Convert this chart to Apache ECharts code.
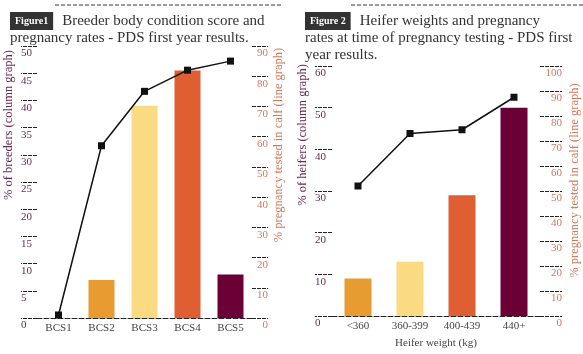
<!DOCTYPE html>
<html lang="en">
<head>
    <meta charset="UTF-8"/>
    <title>PDS first year results</title>
    <!-- ECharts from CDN -->
    <script src="https://cdn.jsdelivr.net/npm/echarts@6/dist/echarts.min.js"></script>
    <style>
        html, body { margin: 0; padding: 0; background: #fff; }
    </style>
</head>
<body>
<div id="main" style="width: 583px;height:354px;"></div>
<script type="text/javascript">
    // figure 1 data
    var bcsCategories = ['BCS1', 'BCS2', 'BCS3', 'BCS4', 'BCS5'];
    var bcsBreeders = [0, 7, 39, 45.5, 8];            // % of breeders (columns)
    var bcsPregnancy = [1, 57, 75, 82, 85];           // % pregnancy tested in calf (line)

    // figure 2 data
    var weightCategories = ['<360', '360-399', '400-439', '440+'];
    var weightHeifers = [9, 13, 29, 50];              // % of heifers (columns)
    var weightPregnancy = [52, 73, 74.5, 87.5];       // % pregnancy tested in calf (line)

    var barColors1 = ['#e89b30', '#e89b30', '#fadb82', '#df5f33', '#6a0036'];
    var barColors2 = ['#e89b30', '#fadb82', '#df5f33', '#6a0036'];

    var serif = '"Liberation Serif", "DejaVu Serif", serif';
    var leftColor = '#6a2a4e';
    var rightColor = '#d27a5c';

    function colored(values, colors) {
        var out = [];
        for (var i = 0; i < values.length; i++) {
            out.push({ value: values[i], itemStyle: { color: colors[i] } });
        }
        return out;
    }

    function xAxisFor(grid, cats, name) {
        return {
            type: 'category',
            gridIndex: grid,
            data: cats,
            name: name,
            nameLocation: 'middle',
            nameGap: 22,
            nameTextStyle: { color: '#444', fontSize: 11, fontFamily: serif },
            axisLine: { lineStyle: { color: '#222', width: 1, type: [5, 2] } },
            axisTick: { inside: true, length: 13, lineStyle: { color: '#111', width: 1.5 } },
            axisLabel: { color: '#444', fontSize: 11, fontFamily: serif, margin: 5 }
        };
    }

    // shift = padding that moves the rotated name up the axis by shift/2
    function yAxisFor(grid, pos, max, step, name, color, gap, shift, tickLen) {
        return {
            type: 'value',
            gridIndex: grid,
            position: pos,
            min: 0,
            max: max,
            interval: step,
            name: name,
            nameLocation: 'middle',
            nameGap: gap,
            nameTextStyle: { color: color, fontSize: 12.5, fontFamily: serif, padding: [0, 0, 0, shift] },
            axisLine: { show: false },
            splitLine: { show: false },
            axisTick: { show: true, length: tickLen, lineStyle: { color: '#222', width: 1, type: [4, 1] } },
            axisLabel: {
                color: color, fontSize: 11, fontFamily: serif,
                margin: tickLen, align: pos === 'left' ? 'left' : 'right',
                verticalAlign: 'top', padding: [2, 0, 0, 0]
            }
        };
    }

    var titleRich = {
        b: { backgroundColor: '#333', color: '#fff', fontWeight: 'bold', fontSize: 10, fontFamily: serif, padding: [3, 5, 3, 5], height: 12 },
        s: { width: 9 },
        t: { fontSize: 15, color: '#333', fontFamily: serif, fontWeight: 'normal', lineHeight: 17 }
    };

    var myChart = echarts.init(document.getElementById('main'));
    var option = {
        animation: false,
        title: [
            {
                left: 5, top: 7,
                text: '{b|Figure1}{s|}{t|Breeder body condition score and}\n{t|pregnancy rates - PDS first year results.}',
                textStyle: { fontWeight: 'normal', rich: titleRich }
            },
            {
                left: 300, top: 7,
                text: '{b|Figure 2}{s|}{t|Heifer weights and pregnancy}\n{t|rates at time of pregnancy testing - PDS first}\n{t|year results.}',
                textStyle: { fontWeight: 'normal', rich: titleRich }
            }
        ],
        graphic: [
            { type: 'line', shape: { x1: 55, y1: 5, x2: 283, y2: 5 }, style: { stroke: '#333', lineWidth: 1, lineDash: [4, 2] } },
            { type: 'line', shape: { x1: 351, y1: 5, x2: 583, y2: 5 }, style: { stroke: '#333', lineWidth: 1, lineDash: [4, 2] } }
        ],
        grid: [
            { left: 37, right: 331, top: 46, bottom: 36 },
            { left: 332, right: 43, top: 66, bottom: 36 }
        ],
        xAxis: [
            xAxisFor(0, bcsCategories, ''),
            xAxisFor(1, weightCategories, 'Heifer weight (kg)')
        ],
        yAxis: [
            yAxisFor(0, 'left', 50, 5, '% of breeders (column graph)', leftColor, 22, 114, 16),
            yAxisFor(0, 'right', 90, 10, '% pregnancy tested in calf (line graph)', rightColor, 20, 74, 16),
            yAxisFor(1, 'left', 60, 10, '% of heifers (column graph)', leftColor, 23, 112, 17),
            yAxisFor(1, 'right', 100, 10, '% pregnancy tested in calf (line graph)', rightColor, 28, 21, 22)
        ],
        series: [
            {
                name: '% of breeders', type: 'bar', xAxisIndex: 0, yAxisIndex: 0,
                barWidth: 26, data: colored(bcsBreeders, barColors1)
            },
            {
                name: '% pregnancy tested', type: 'line', xAxisIndex: 0, yAxisIndex: 1,
                symbol: 'rect', symbolSize: 7, showAllSymbol: true,
                lineStyle: { color: '#111', width: 1.5 }, itemStyle: { color: '#111' },
                data: bcsPregnancy
            },
            {
                name: '% of heifers', type: 'bar', xAxisIndex: 1, yAxisIndex: 2,
                barWidth: 27, data: colored(weightHeifers, barColors2)
            },
            {
                name: '% pregnancy tested', type: 'line', xAxisIndex: 1, yAxisIndex: 3,
                symbol: 'rect', symbolSize: 7, showAllSymbol: true,
                lineStyle: { color: '#111', width: 1.5 }, itemStyle: { color: '#111' },
                data: weightPregnancy
            }
        ]
    };
    myChart.setOption(option);
</script>
</body>
</html>
